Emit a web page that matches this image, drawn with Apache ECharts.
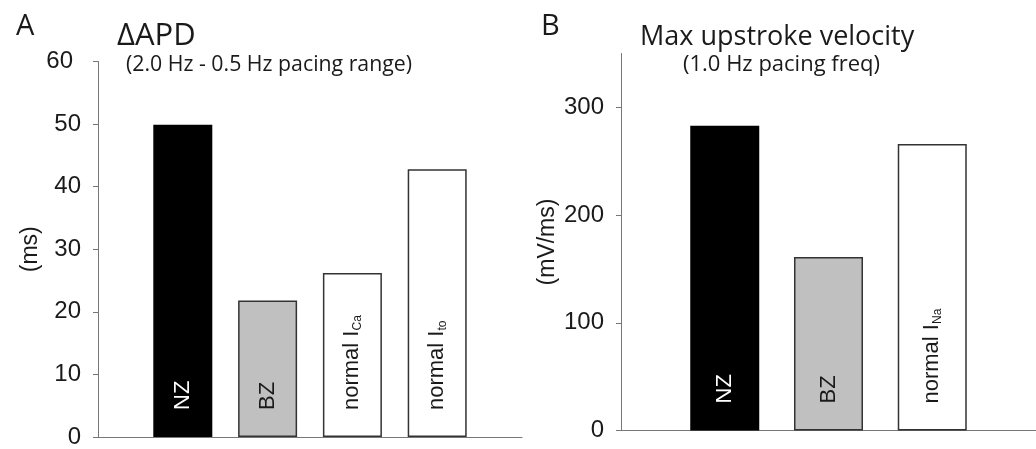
<!DOCTYPE html>
<html>
<head>
<meta charset="utf-8">
<script src="https://cdn.jsdelivr.net/npm/echarts@6/dist/echarts.min.js"></script>
<style>
    html, body { margin: 0; padding: 0; background: #ffffff; }
    #chart { width: 1036px; height: 449px; }
</style>
</head>
<body>
<div id="chart"></div>
<script>
    // panel A: delta APD (ms)
    const apdCategories = ['', 'NZ', 'BZ', 'normal ICa', 'normal Ito', ''];
    const apdLabels = ['', '{n|NZ}', '{n|BZ}', '{d|normal I}{s|Ca}', '{d|normal I}{s|to}', ''];
    const apdValues = ['-', 49.9, 21.8, 26.2, 42.8, '-'];
    const apdTicks = [0, 10, 20, 30, 40, 50, 60];

    // panel B: max upstroke velocity (mV/ms)
    const vmaxCategories = ['', 'NZ', 'BZ', 'normal INa', ''];
    const vmaxLabels = ['', '{n|NZ}', '{n|BZ}', '{d|normal I}{s|Na}', ''];
    const vmaxValues = ['-', 283, 161, 266, '-'];
    const vmaxTicks = [0, 100, 200, 300];

    const apdFills = ['none', '#000000', '#c0c0c0', '#ffffff', '#ffffff', 'none'];
    const apdLabelColors = ['#000', '#ffffff', '#1a1a1a', '#1a1a1a', '#1a1a1a', '#000'];
    const vmaxFills = ['none', '#000000', '#c0c0c0', '#ffffff', 'none'];
    const vmaxLabelColors = ['#000', '#ffffff', '#1a1a1a', '#1a1a1a', '#000'];

    const chartElement = document.querySelector('#chart');
    const chart = echarts.init(chartElement, null, { renderer: 'canvas' });

    const textColor = '#1a1a1a';
    const axisColor = '#777777';
    const tickFont = 'Liberation Sans, Arial, sans-serif';
    const titleFont = 'Open Sans, sans-serif';

    function buildBarData(values, labels, fills, colors) {
        return values.map((value, index) => ({
            value,
            itemStyle: {
                color: fills[index],
                borderColor: index === 1 ? '#000000' : '#333333',
                borderWidth: 1.5
            },
            label: {
                formatter: labels[index],
                rich: {
                    n: { fontSize: 22, color: colors[index], fontFamily: tickFont, lineHeight: 22 },
                    d: { fontSize: 22, color: colors[index], fontFamily: tickFont, lineHeight: 22, verticalAlign: 'top' },
                    s: { fontSize: 12, color: colors[index], fontFamily: tickFont, lineHeight: 12, verticalAlign: 'bottom', padding: [14, 0, 0, 0] }
                }
            }
        }));
    }

    function valueAxis(gridIndex, max, interval, ticks, name, nameGap) {
        return {
            type: 'value',
            gridIndex,
            min: 0,
            max,
            interval,
            name,
            nameLocation: 'middle',
            nameGap,
            nameTextStyle: { fontSize: 23, color: textColor, fontFamily: tickFont },
            axisLine: { show: true, lineStyle: { color: axisColor, width: 1 } },
            axisTick: { show: true, length: 5, customValues: ticks, lineStyle: { color: axisColor, width: 1 } },
            axisLabel: {
                customValues: ticks,
                margin: 17,
                fontSize: 24,
                color: textColor,
                fontFamily: tickFont,
                formatter(value) {
                    return value === 60 ? '{t|60}' : String(value);
                },
                rich: {
                    t: { fontSize: 24, color: textColor, fontFamily: tickFont, padding: [0, 8, 0, 0] }
                }
            },
            splitLine: { show: false }
        };
    }

    function categoryAxis(gridIndex, categories) {
        return {
            type: 'category',
            gridIndex,
            data: categories,
            boundaryGap: false,
            axisLine: { show: true, lineStyle: { color: axisColor, width: 1 } },
            axisTick: { show: false },
            axisLabel: { show: false },
            splitLine: { show: false }
        };
    }

    const barLabel = {
        show: true,
        position: 'insideBottom',
        rotate: 90,
        align: 'left',
        verticalAlign: 'middle',
        distance: 27
    };

    chart.setOption({
        animation: false,
        backgroundColor: '#ffffff',
        title: [
            { text: 'A', left: 11, top: 7, textStyle: { fontSize: 29, fontWeight: 'normal', color: textColor, fontFamily: titleFont } },
            { text: 'ΔAPD', left: 112, top: 16, textStyle: { fontSize: 31, fontWeight: 'normal', color: textColor, fontFamily: titleFont } },
            { text: '(2.0 Hz - 0.5 Hz pacing range)', left: 121, top: 49, textStyle: { fontSize: 21.3, fontWeight: 'normal', color: textColor, fontFamily: titleFont } },
            { text: 'B', left: 536, top: 7, textStyle: { fontSize: 29, fontWeight: 'normal', color: textColor, fontFamily: titleFont } },
            { text: 'Max upstroke velocity', left: 635, top: 19, textStyle: { fontSize: 27, fontWeight: 'normal', color: textColor, fontFamily: titleFont } },
            { text: '(1.0 Hz pacing freq)', left: 678, top: 49, textStyle: { fontSize: 22, fontWeight: 'normal', color: textColor, fontFamily: titleFont } }
        ],
        grid: [
            { left: 98, top: 61.5, width: 424, height: 375.5 },
            { left: 621, top: 53.5, width: 424, height: 377 }
        ],
        xAxis: [
            categoryAxis(0, apdCategories),
            categoryAxis(1, vmaxCategories)
        ],
        yAxis: [
            valueAxis(0, 60, 10, apdTicks, '(ms)', 54),
            valueAxis(1, 350, 50, vmaxTicks, '(mV/ms)', 62)
        ],
        series: [
            {
                type: 'bar',
                xAxisIndex: 0,
                yAxisIndex: 0,
                barWidth: 59,
                label: barLabel,
                data: buildBarData(apdValues, apdLabels, apdFills, apdLabelColors)
            },
            {
                type: 'bar',
                xAxisIndex: 1,
                yAxisIndex: 1,
                barWidth: 69,
                label: barLabel,
                data: buildBarData(vmaxValues, vmaxLabels, vmaxFills, vmaxLabelColors)
            }
        ]
    });
</script>
</body>
</html>
